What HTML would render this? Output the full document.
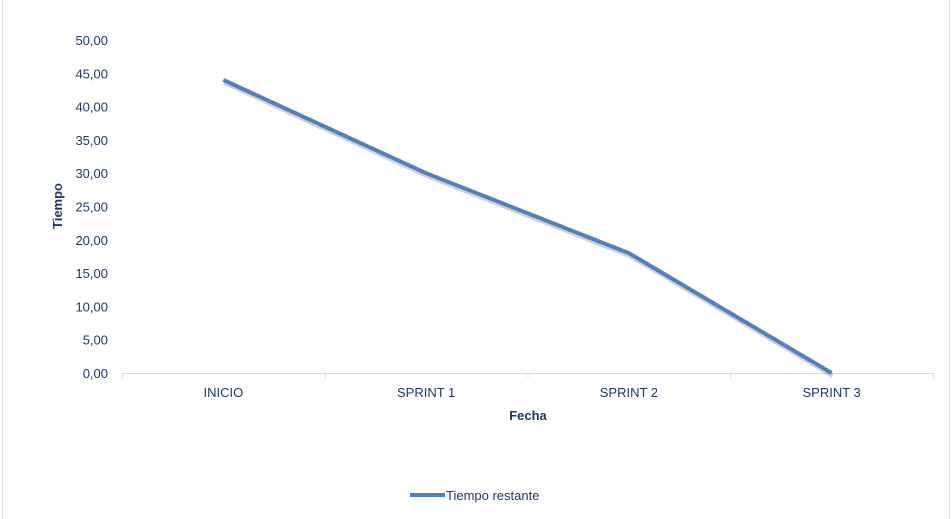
<!DOCTYPE html>
<html><head><meta charset="utf-8"><style>
html,body{margin:0;padding:0;background:#fff;}
svg{display:block;font-family:"Liberation Sans",sans-serif;}
</style></head><body>
<svg id="chart" width="952" height="519">
<rect x="0" y="0" width="952" height="519" fill="#fff"/>
<line x1="2.5" y1="0" x2="2.5" y2="519" stroke="#dbe5f1"/>
<line x1="949.5" y1="0" x2="949.5" y2="519" stroke="#dbe5f1"/>
<g id="axes"></g>
<g id="series"></g>
<text x="62" y="206" transform="rotate(-90 62 206)" text-anchor="middle" font-size="13" font-weight="bold" fill="#1f3864">Tiempo</text>
<text x="528" y="420" text-anchor="middle" font-size="13" font-weight="bold" fill="#1f3864">Fecha</text>
<g>
<line x1="410" y1="495" x2="445" y2="495" stroke="#4f81bd" stroke-width="4"/>
<text x="446" y="500" font-size="13" fill="#1f3864">Tiempo restante</text>
</g>
</svg>
<script>
const categories = ["INICIO","SPRINT 1","SPRINT 2","SPRINT 3"];
const values = [44, 30, 18, 0];
const yTicks = [0,5,10,15,20,25,30,35,40,45,50];
const NS="http://www.w3.org/2000/svg";
const x0=122,x1=933,y0=373,y1=40,yMax=50;
const band=(x1-x0)/categories.length;
const xs=i=>x0+band*(i+0.5);
const ys=v=>y0-(v/yMax)*(y0-y1);
const axes=document.getElementById('axes'), series=document.getElementById('series');
function mk(t,a,p){const e=document.createElementNS(NS,t);for(const k in a)e.setAttribute(k,a[k]);p.appendChild(e);return e;}
const ax=mk('line',{x1:x0,y1:y0+0.5,x2:x1,y2:y0+0.5,stroke:'#d9d9d9'},axes);


for(let i=0;i<=categories.length;i++){
 const t=mk('line',{x1:x0+band*i+0.5,y1:y0,x2:x0+band*i+0.5,y2:y0+5,stroke:'#d9d9d9'},axes);
 
 
}
categories.forEach((c,i)=>{
 const t=mk('text',{x:xs(i),y:397,'text-anchor':'middle','font-size':'13',fill:'#1f3864'},axes);
 t.textContent=c;
 
 
});
yTicks.forEach(v=>{
 const t=mk('text',{x:108,y:ys(v)+5,'text-anchor':'end','font-size':'13',fill:'#1f3864'},axes);
 t.textContent=v.toFixed(2).replace('.',',');
 
 
});
const pts=values.map((v,i)=>xs(i)+','+ys(v)).join(' ');
const sh=mk('polyline',{points:values.map((v,i)=>(xs(i)+1)+','+(ys(v)+3)).join(' '),fill:'none',stroke:'#000','stroke-opacity':'0.18','stroke-width':'4','stroke-linejoin':'round'},series);


const pl=mk('polyline',{points:pts,fill:'none',stroke:'#4f81bd','stroke-width':'4','stroke-linejoin':'round'},series);


</script>
</body></html>
